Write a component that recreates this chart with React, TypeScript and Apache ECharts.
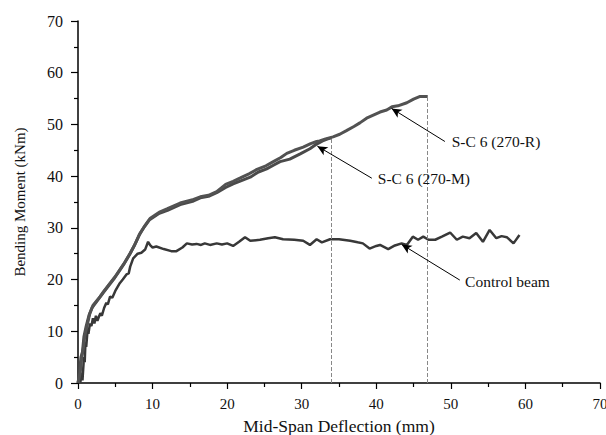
import React, { useEffect, useRef } from "react";
import * as echarts from "echarts";

const controlX = [0.3,0.5,0.6,0.8,0.9,1.0,1.1,1.3,1.4,1.6,1.8,2.0,2.2,2.4,2.6,2.8,3.0,3.2,3.5,3.8,4.0,4.3,4.6,5.0,5.6,6.0,6.5,6.8,7.0,7.4,8.0,8.5,9.0,9.4,9.7,10.0,10.5,11.5,12.5,13.2,14.0,14.6,15.3,15.9,16.5,17.0,17.7,18.6,19.3,20.0,20.8,21.6,22.4,23.1,24.4,25.5,26.4,27.5,29.0,30.2,31.1,32.0,32.7,33.8,35.0,36.5,37.5,38.2,39.1,40.0,40.5,41.6,42.5,43.4,44.1,44.9,45.6,46.3,47.0,47.9,48.8,49.9,50.8,51.6,52.5,53.4,54.3,55.2,56.1,56.8,57.5,58.4,59.2];
const controlY = [0,2,0.5,5,4,8,7,10.5,9.5,11.5,11,12.5,11.5,13,12,12.8,13.5,13,14.5,15.5,15.2,16.7,16.5,17.8,19.3,20.0,21.0,21.2,22.5,24.1,25.0,25.2,25.8,27.3,26.6,26.2,26.4,25.9,25.5,25.5,26.2,27.0,26.8,26.9,26.7,27,26.7,27.0,26.8,27,26.5,27.3,28.2,27.5,27.7,28.0,28.2,27.8,27.7,27.5,26.7,27.8,27.2,27.8,27.8,27.5,27.2,27.0,26.0,26.5,26.7,25.9,26.6,27.0,26.7,28.3,27.7,28.3,27.7,27.7,28.3,29.1,27.7,28.3,28.0,29.0,27.3,29.6,28.0,28.4,28.2,27.0,28.6];

const rX = [0,0.3,0.5,0.7,0.9,1.2,1.6,2.0,2.95,3.5,4.3,5.0,5.6,6.3,7.0,7.7,8.3,9.0,9.65,11.0,12.0,13.7,15.5,16.4,17.5,18.6,19.8,20.8,21.7,23,24.0,25.2,26.2,27.2,28.0,29.0,30.2,31.2,32.0,32.4,33.2,34.2,35.1,36.0,37.0,37.8,38.7,39.6,40.5,41.4,42.1,42.9,44.1,45.0,45.8,46.9];
const rY = [0,2,5,6.5,9,11,13.5,15,16.7,17.8,19.3,20.6,21.9,23.4,25.1,27,28.9,30.5,31.8,33.1,33.7,34.8,35.5,36.0,36.3,37.0,38.4,39.0,39.6,40.5,41.3,42.0,42.8,43.6,44.4,45.0,45.6,46.3,46.7,46.8,47.2,47.6,48.1,48.8,49.6,50.3,51.2,51.8,52.4,52.8,53.4,53.6,54.2,54.9,55.4,55.4];

const mX = [0,0.2,0.4,0.6,0.8,1.1,1.5,1.9,2.85,3.4,4.2,4.9,5.5,6.2,6.9,7.6,8.2,8.9,9.55,10.9,12,13.7,15.5,16.4,17.5,18.6,19.8,20.8,22,23.1,24.2,25.3,26.2,27.1,28.4,29.8,31.1,32.0,32.8,33.5,34.0];
const mY = [0,2,5,6,9,11,13.2,14.6,16.4,17.5,19.0,20.3,21.6,23.1,24.8,26.7,28.6,30.2,31.5,32.8,33.4,34.5,35.2,35.8,36.1,36.8,37.8,38.5,39.2,39.8,40.8,41.4,42.1,42.8,43.3,44.3,45.3,46.2,46.8,47.2,47.4];

const xTicks = [0, 10, 20, 30, 40, 50, 60, 70];
const yTicks = [0, 10, 20, 30, 40, 50, 60, 70];

// dashed guide lines: [x, yTop]
const guideLines = [[34, 47.3], [46.9, 55.4]];

// annotations: label, arrow tail [x,y], arrow head [x,y], text anchor [x,y]
const annLabels = ["S-C 6 (270-R)", "S-C 6 (270-M)", "Control beam"];
const annTails = [[49.2, 46.7], [39.4, 39.6], [51.2, 19.9]];
const annHeads = [[42.05, 53.1], [32.1, 45.8], [43.4, 26.8]];
const annText = [[50.1, 46.7], [40.2, 39.45], [51.9, 19.6]];

const zip = (xs: number[], ys: number[]) => xs.map((x, i) => [x, ys[i]]);

export default function App() {
  const ref = useRef<HTMLDivElement>(null);
  useEffect(() => {
    if (!ref.current) return;
    document.body.style.margin = "0";
    document.body.style.overflow = "hidden";
    const chart = echarts.init(ref.current, undefined, { renderer: "svg" });
    const font = "'Liberation Serif', 'Times New Roman', serif";
    chart.setOption({
      animation: false,
      backgroundColor: "#ffffff",
      grid: { left: 78, right: 6, top: 21, bottom: 52, containLabel: false, outerBoundsMode: "none" },
      xAxis: {
        type: "value",
        min: xTicks[0],
        max: xTicks[xTicks.length - 1],
        interval: 10,
        name: "Mid-Span Deflection (mm)",
        nameLocation: "middle",
        nameGap: 34,
        nameTextStyle: { fontFamily: font, fontSize: 17.5, color: "#111" },
        axisLine: { show: true, lineStyle: { color: "#000", width: 1.5 } },
        axisTick: { show: true, inside: false, length: 6, lineStyle: { color: "#000", width: 1.2 } },
        minorTick: { show: true, splitNumber: 2, length: 4, lineStyle: { color: "#000", width: 1.2 } },
        axisLabel: { fontFamily: font, fontSize: 15, color: "#111", margin: 13 },
        splitLine: { show: false },
      },
      yAxis: {
        type: "value",
        min: yTicks[0],
        max: yTicks[yTicks.length - 1],
        interval: 10,
        name: "Bending Moment (kNm)",
        nameLocation: "middle",
        nameGap: 51,
        nameTextStyle: { fontFamily: font, fontSize: 15, color: "#111" },
        axisLine: { show: true, lineStyle: { color: "#000", width: 1.5 } },
        axisTick: { show: true, inside: false, length: 7, lineStyle: { color: "#000", width: 1.2 } },
        minorTick: { show: true, splitNumber: 2, length: 4, lineStyle: { color: "#000", width: 1.2 } },
        axisLabel: { fontFamily: font, fontSize: 16, color: "#111", margin: 15 },
        splitLine: { show: false },
      },
      series: [
        {
          name: "Control beam",
          type: "line",
          data: zip(controlX, controlY),
          showSymbol: false,
          symbol: "none",
          lineStyle: { color: "#383838", width: 2.5 },
          z: 3,
        },
        {
          name: "S-C 6 (270-M)",
          type: "line",
          data: zip(mX, mY),
          showSymbol: false,
          symbol: "none",
          lineStyle: { color: "#4a4a4a", width: 3 },
          z: 3,
        },
        {
          name: "S-C 6 (270-R)",
          type: "line",
          data: zip(rX, rY),
          showSymbol: false,
          symbol: "none",
          lineStyle: { color: "#525252", width: 3 },
          z: 4,
        },
        {
          name: "annotations",
          type: "line",
          data: [],
          silent: true,
          markLine: {
            silent: true,
            animation: false,
            symbol: ["none", "none"],
            label: { show: false },
            lineStyle: { color: "#888", type: "dashed", width: 1 },
            data: guideLines.map((g) => [{ coord: [g[0], 0] }, { coord: [g[0], g[1]] }]),
          },
        },
        {
          name: "arrows",
          type: "line",
          data: [],
          silent: true,
          markLine: {
            silent: true,
            animation: false,
            symbol: ["none", "arrow"],
            symbolSize: [7, 10],
            label: { show: false },
            lineStyle: { color: "#000", type: "solid", width: 1 },
            data: annTails.map((t, i) => [{ coord: t }, { coord: annHeads[i] }]),
          },
          markPoint: {
            silent: true,
            animation: false,
            symbol: "circle",
            symbolSize: 0.1,
            itemStyle: { color: "transparent" },
            label: {
              show: true,
              position: "right",
              distance: 0,
              fontFamily: font,
              fontSize: 15.5,
              color: "#111",
              formatter: (p: any) => p.name,
            },
            data: annLabels.map((l, i) => ({ name: l, coord: annText[i], value: 0 })),
          },
        },
      ],
    });
    return () => chart.dispose();
  }, []);
  return (
    <div style={{ position: "absolute", left: 0, top: 0, width: 606, height: 435, overflow: "hidden" }}>
      <div ref={ref} style={{ width: 606, height: 435, background: "#fff" }} />
    </div>
  );
}
